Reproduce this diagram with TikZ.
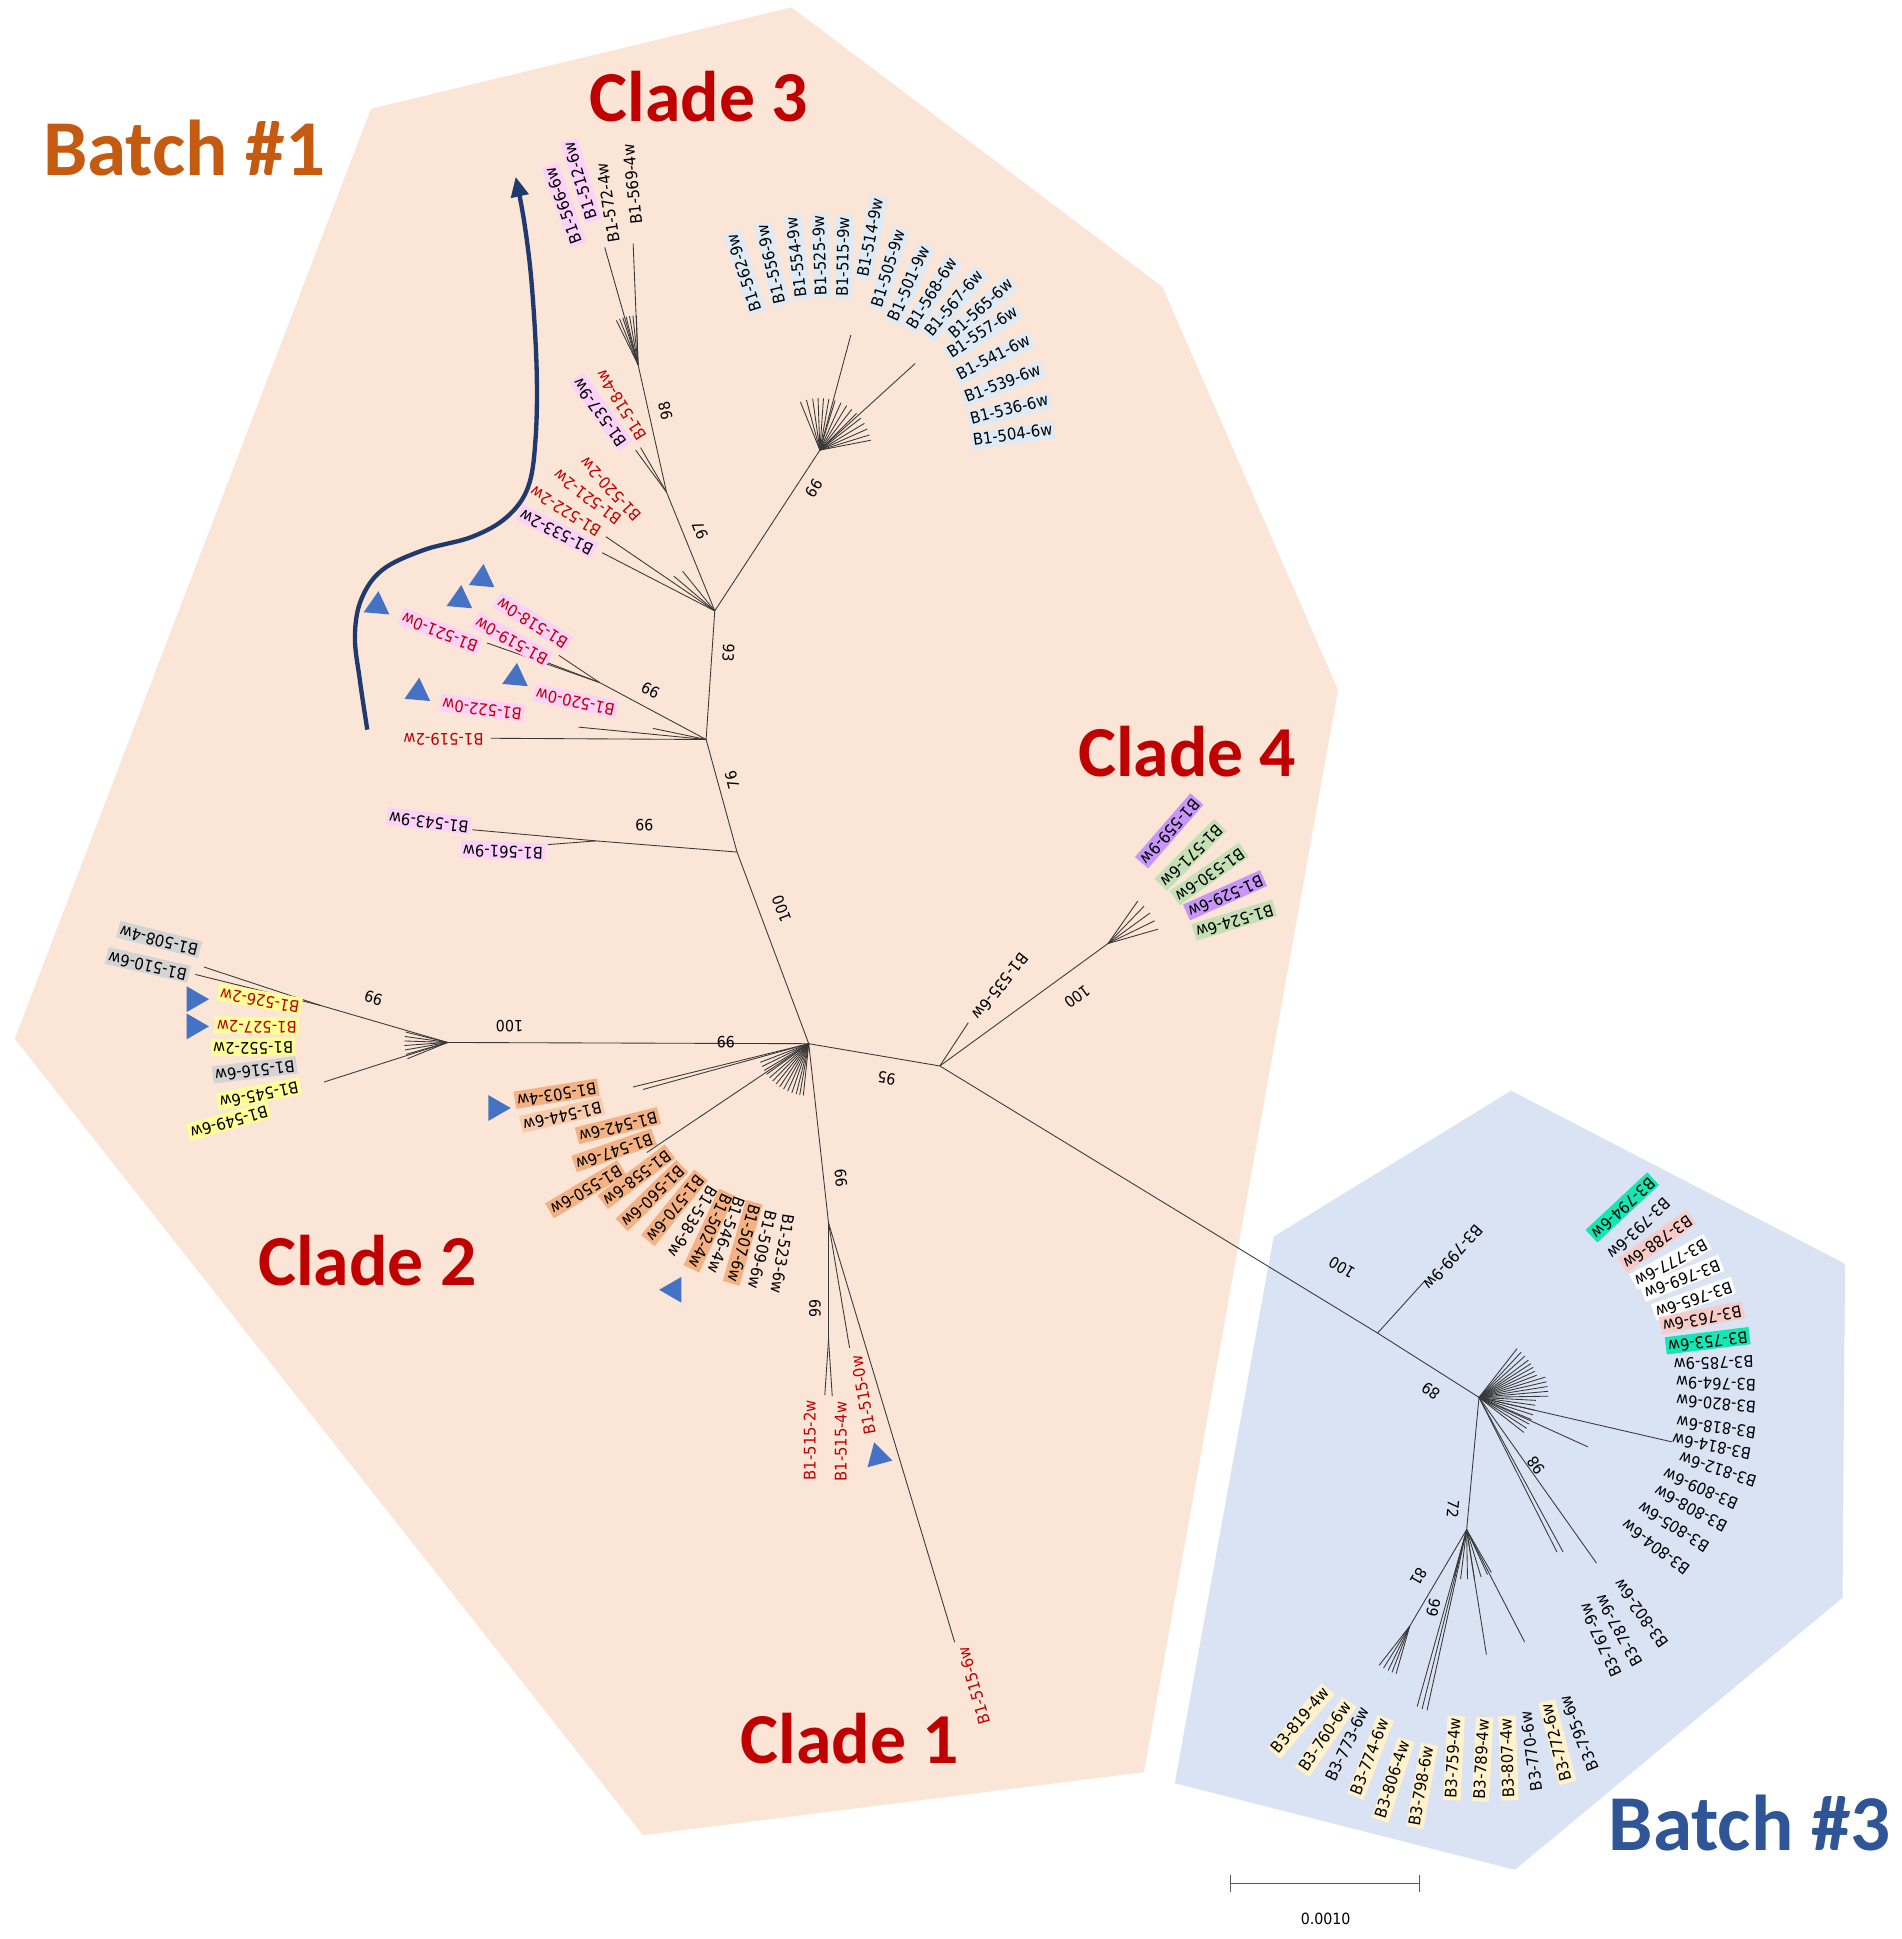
\documentclass[tikz,border=0pt]{standalone}
\usepackage{fontspec}
\usetikzlibrary{shapes.geometric,arrows.meta}
\newfontfamily\dejafam{DejaVu Sans}[FakeStretch=0.92]
\newfontfamily\carfam{Carlito}
\newcommand\labfnt{\dejafam\fontsize{13}{14}\selectfont}
\newcommand\supfnt{\dejafam\fontsize{12.5}{13}\selectfont}
\newcommand\ttlfnt{\carfam\bfseries\fontsize{58}{60}\selectfont}
\newcommand\batfnt{\carfam\bfseries\fontsize{64}{66}\selectfont}
\newcommand\sbfnt{\dejafam\fontsize{12.5}{13}\selectfont}
\definecolor{peach}{RGB}{251,229,214}
\definecolor{bluebg}{RGB}{218,227,243}
\definecolor{cred}{RGB}{192,0,0}
\definecolor{corange}{RGB}{197,90,17}
\definecolor{cblue}{RGB}{47,85,151}
\definecolor{arrowblue}{RGB}{32,58,110}
\definecolor{tricol}{RGB}{68,114,196}
\definecolor{bxblue}{RGB}{222,235,247}
\definecolor{bxpink}{RGB}{252,210,250}
\definecolor{bxgray}{RGB}{212,212,212}
\definecolor{bxyellow}{RGB}{255,255,153}
\definecolor{bxorange}{RGB}{244,177,131}
\definecolor{bxlorange}{RGB}{248,203,173}
\definecolor{bxpurple}{RGB}{200,150,250}
\definecolor{bxgreen}{RGB}{197,224,180}
\definecolor{bxcream}{RGB}{255,242,204}
\definecolor{bxteal}{RGB}{20,230,180}
\definecolor{bxrose}{RGB}{247,203,200}
\newcommand\lb[5]{\node[lab,#1,rotate=#3] (#4) at (#2) {#5};}
\newcommand\tr[3]{\node[trist,rotate=#3-90] (#1) at (#2) {};}
\newcommand\fan[4]{\foreach \a [count=\i] in {#3}{\path (#1) ++({#2*cos(\a)},{-#2*sin(\a)}) coordinate (#4\i); \draw[br] (#1) -- (#4\i);}}
\begin{document}
\begin{tikzpicture}[x=1pt,y=-1pt,
 br/.style={draw=black!78,line width=0.7pt},
 lab/.style={font=\labfnt,anchor=west,inner xsep=1.8pt,inner ysep=1pt,text height=9.6pt,text depth=2.4pt},
 rt/.style={text=cred},
 nb/.style={},
 fb/.style={fill=bxblue}, fp/.style={fill=bxpink}, fg/.style={fill=bxgray},
 fy/.style={fill=bxyellow}, fo/.style={fill=bxorange}, flo/.style={fill=bxlorange},
 fu/.style={fill=bxpurple}, fgr/.style={fill=bxgreen}, fc/.style={fill=bxcream},
 ft/.style={fill=bxteal}, fr/.style={fill=bxrose}, fw/.style={fill=white},
 sup/.style={font=\supfnt,inner sep=1pt},
 ttl/.style={font=\ttlfnt,text=cred},
 bat/.style={font=\batfnt},
 trist/.style={regular polygon,regular polygon sides=3,fill=tricol,minimum size=24pt,inner sep=0pt}]
\useasboundingbox (0,0) rectangle (1538,1568);
\fill[white] (0,0) rectangle (1538,1568);
% backgrounds
\fill[peach] (300,88) -- (640,6) -- (940,232) -- (1082,558) -- (925,1433) -- (520,1484) -- (12,840) -- cycle;
\fill[bluebg] (1030,1000) -- (1222,882) -- (1492,1022) -- (1490,1292) -- (1225,1512) -- (950,1442) -- cycle;
% titles
\node[ttl] (ttl3) at (565,78) {Clade 3};
\node[ttl] (ttl4) at (960,608) {Clade 4};
\node[ttl] (ttl2) at (297,1019) {Clade 2};
\node[ttl] (ttl1) at (687,1406) {Clade 1};
\node[bat,text=corange] (bat1) at (149,120) {Batch \#1};
\node[bat,text=cblue] (bat3) at (1415,1474) {Batch \#3};
% arrow
\draw[arrowblue,line width=3.5pt,-{Triangle[length=16pt,width=14pt]}] plot[smooth,tension=0.6] coordinates {(297,590) (291,550) (287,515) (292,485) (309,461) (342,445) (382,434) (410,418) (427,394) (433,356) (434,300) (430,230) (424,180) (417,143)};
% internal nodes
\coordinate (A) at (654,844);
\coordinate (N76) at (596,689);
\coordinate (N93) at (571,598);
\coordinate (N3) at (578,494);
\coordinate (N98) at (539,398);
\coordinate (F566) at (516,295);
\coordinate (C3a) at (663,364);
\coordinate (N99m) at (485,552);
\coordinate (N99b) at (482,680);
\coordinate (L100) at (362,843);
\coordinate (N99L) at (259,813);
\coordinate (N99c) at (670,989);
\coordinate (N99d) at (670,1083);
\coordinate (N95) at (760,862);
\coordinate (C4a) at (896,763);
\coordinate (N799) at (1114,1078);
\coordinate (BA) at (1196,1130);
\coordinate (N72) at (1186,1237);
\coordinate (N81) at (1140,1315);
% leaf tips
\coordinate (c3l1) at (688,271);
\coordinate (c3l2) at (740,294);
\coordinate (tip566) at (489,200);
\coordinate (tip569) at (512,197);
\coordinate (tip537) at (514,364);
\coordinate (tip518) at (518,362);
\coordinate (tip533) at (487,447);
\coordinate (tip522) at (490,434);
\coordinate (tip521s) at (545,466);
\coordinate (tip520s) at (552,462);
\coordinate (tip5192) at (397,597);
\coordinate (n93s1) at (468,588);
\coordinate (n93s2) at (528,589);
\coordinate (tip5210) at (394,520);
\coordinate (tip5190) at (443,536);
\coordinate (tip5180) at (452,530);
\coordinate (tip543) at (382,671);
\coordinate (tip561) at (443,683);
\coordinate (tip510) at (158,788);
\coordinate (tip508) at (165,782);
\coordinate (tipL) at (262,875);
\coordinate (tip503) at (512,879);
\coordinate (tip544) at (520,881);
\coordinate (tip547) at (523,932);
\coordinate (tip5152) at (667,1128);
\coordinate (tip5154) at (673,1129);
\coordinate (tip5150) at (687,1090);
\coordinate (tip5156) at (772,1328);
\coordinate (tip535) at (783,827);
\coordinate (tip799) at (1152,1036);
\coordinate (bA1) at (1352,1166);
\coordinate (bA2) at (1284,1170);
\coordinate (bA3) at (1259,1255);
\coordinate (bA4) at (1264,1255);
\coordinate (bA5) at (1291,1264);
\coordinate (n72a) at (1202,1338);
\coordinate (n72b) at (1233,1328);
\coordinate (n72c) at (1150,1382);
\coordinate (n72d) at (1154,1383);
\coordinate (n72e) at (1146,1380);
% branches
\draw[br] (A) -- (N76) -- (N93) -- (N3);
\draw[br] (N3) -- (N98) -- (F566);
\draw[br] (N3) -- (C3a);
\draw[br] (C3a) -- (c3l1);
\draw[br] (C3a) -- (c3l2);
\draw[br] (F566) -- (tip566);
\draw[br] (F566) -- (tip569);
\draw[br] (N98) -- (tip537);
\draw[br] (N98) -- (tip518);
\draw[br] (N3) -- (tip533);
\draw[br] (N3) -- (tip522);
\draw[br] (N3) -- (tip521s);
\draw[br] (N3) -- (tip520s);
\draw[br] (N93) -- (tip5192);
\draw[br] (N93) -- (n93s1);
\draw[br] (N93) -- (n93s2);
\draw[br] (N93) -- (N99m);
\draw[br] (N99m) -- (tip5210);
\draw[br] (N99m) -- (tip5190);
\draw[br] (N99m) -- (tip5180);
\draw[br] (N76) -- (N99b) -- (tip543);
\draw[br] (N99b) -- (tip561);
\draw[br] (A) -- (L100) -- (N99L) -- (tip510);
\draw[br] (N99L) -- (tip508);
\draw[br] (L100) -- (tipL);
\draw[br] (A) -- (tip503);
\draw[br] (A) -- (tip544);
\draw[br] (A) -- (tip547);
\draw[br] (A) -- (N99c) -- (N99d) -- (tip5152);
\draw[br] (N99d) -- (tip5154);
\draw[br] (N99c) -- (tip5150);
\draw[br] (N99c) -- (tip5156);
\draw[br] (A) -- (N95) -- (tip535);
\draw[br] (N95) -- (C4a);
\draw[br] (N95) -- (N799) -- (BA);
\draw[br] (N799) -- (tip799);
\draw[br] (BA) -- (bA1);
\draw[br] (BA) -- (bA2);
\draw[br] (BA) -- (bA3);
\draw[br] (BA) -- (bA4);
\draw[br] (BA) -- (bA5);
\draw[br] (BA) -- (N72) -- (N81);
\draw[br] (N72) -- (n72a);
\draw[br] (N72) -- (n72b);
\draw[br] (N72) -- (n72c);
\draw[br] (N72) -- (n72d);
\draw[br] (N72) -- (n72e);
% fans
\fan{C3a}{42}{112,105,98,92,86,80,73,66,59,52,45,38,31,24,17,11}{fc3}
\fan{A}{42}{201,206,211,216,221,226,231,236,241,246,251,256,260,264}{fc2}
\fan{C4a}{42}{55,46,36,26,16}{fc4}
\fan{F566}{40}{92,96,100,104,108,112,116}{ff5}
\fan{L100}{35}{166,172,178,184,190,196,202}{fl1}
\fan{N72}{40}{255,263,271,279,287,295,300}{fn7}
\fan{N81}{40}{232,238,244,249,254}{fn8}
\fan{BA}{50}{52,47,42,37,33,29,25,21}{fba}
\fan{BA}{56}{17,13,9,5,1}{fbb}
\fan{BA}{46}{-3,-8,-13,-18,-23,-28,-33,-38}{fbc}
% support values
\node[sup,rotate=102.6] (s98) at (538,332) {98};
\node[sup,rotate=112] (s97) at (566,429) {97};
\node[sup,rotate=266] (s93) at (589,528) {93};
\node[sup,rotate=105] (s76) at (592,631) {76};
\node[sup,rotate=110.5] (s100a) at (632,735) {100};
\node[sup,rotate=237.5] (s99c3) at (658,395) {99};
\node[sup,rotate=152] (s99m) at (526,558) {99};
\node[sup,rotate=180] (s99b) at (521,667) {99};
\node[sup,rotate=164] (s99L) at (302,807) {99};
\node[sup,rotate=180] (s100L) at (412,830) {100};
\node[sup,rotate=180] (s99A) at (587,843) {99};
\node[sup,rotate=171] (s95) at (717,872) {95};
\node[sup,rotate=217] (s100c4) at (871,806) {100};
\node[sup,rotate=96] (s99c1a) at (680,953) {99};
\node[sup,rotate=90] (s99c1b) at (659,1058) {99};
\node[sup,rotate=149] (s100b3) at (1085,1025) {100};
\node[sup,rotate=145] (s89) at (1157,1125) {89};
\node[sup,rotate=265] (s72) at (1175,1220) {72};
\node[sup,rotate=125] (s98b) at (1242,1185) {98};
\node[sup,rotate=239.5] (s81) at (1147,1275) {81};
\node[sup,rotate=256.5] (s99b3) at (1159,1300) {99};
% Clade 3 labels
\lb{fb}{613,253}{108}{t562}{B1-562-9w}
\lb{fb}{632,247}{103}{t556}{B1-556-9w}
\lb{fb}{649,242}{97}{t554}{B1-554-9w}
\lb{fb}{665,241}{92}{t525}{B1-525-9w}
\lb{fb}{682,242}{89}{t515}{B1-515-9w}
\lb{fb}{698,226}{79}{t514}{B1-514-9w}
\lb{fb}{709,250}{73}{t505}{B1-505-9w}
\lb{fb}{722,261}{66}{t501}{B1-501-9w}
\lb{fb}{736,267}{58}{t568}{B1-568-6w}
\lb{fb}{750,272}{50}{t567}{B1-567-6w}
\lb{fb}{768,273}{42}{t565}{B1-565-6w}
\lb{fb}{766,288}{33}{t557}{B1-557-6w}
\lb{fb}{773,305}{27}{t541}{B1-541-6w}
\lb{fb}{779,323}{21}{t539}{B1-539-6w}
\lb{fb}{783,340}{14}{t536}{B1-536-6w}
\lb{fb}{785,357}{8}{t504}{B1-504-6w}
\lb{fp}{468,198}{110}{t566}{B1-566-6w}
\lb{fp}{480,179}{107}{t512}{B1-512-6w}
\lb{nb}{498,198}{99}{t572}{B1-572-4w}
\lb{nb}{516,183}{96}{t569}{B1-569-4w}
\lb{fp}{506,361}{125.5}{t537}{B1-537-9w}
\lb{rt}{522,356}{122.5}{t5184}{B1-518-4w}
\lb{fp}{481,445}{153}{t533}{B1-533-2w}
\lb{rt}{487,431}{148}{t5222}{B1-522-2w}
\lb{rt}{503,422}{143}{t5212}{B1-521-2w}
\lb{rt}{518,420}{133}{t5202}{B1-520-2w}
\lb{fp,rt}{460,521}{148}{t5180}{B1-518-0w}
\lb{fp,rt}{444,534}{151}{t5190}{B1-519-0w}
\lb{fp,rt}{388,523}{158.6}{t5210}{B1-521-0w}
\lb{fp,rt}{499,574}{168}{t5200}{B1-520-0w}
\lb{fp,rt}{424,577}{172.5}{t5220}{B1-522-0w}
\lb{rt}{393,597}{180}{t5192}{B1-519-2w}
\lb{fp}{381,668}{173}{t543}{B1-543-9w}
\lb{fp}{441,689}{178}{t561}{B1-561-9w}
% left group
\lb{fg}{162,768}{166}{t508}{B1-508-4w}
\lb{fg}{153,788}{167}{t510}{B1-510-6w}
\lb{fy,rt}{244,814}{170}{t526}{B1-526-2w}
\lb{fy,rt}{242,830}{179}{t527}{B1-527-2w}
\lb{fy}{239,846}{181}{t552}{B1-552-2w}
\lb{fg}{240,861}{187}{t516}{B1-516-6w}
\lb{fy}{243,878}{191}{t545}{B1-545-6w}
\lb{fy}{218,897}{196}{t549}{B1-549-6w}
% Clade 2
\lb{fo}{484,879}{189}{t503}{B1-503-4w}
\lb{flo}{488,894}{193}{t544}{B1-544-6w}
\lb{fo}{533,902}{194}{t542}{B1-542-6w}
\lb{fo}{529,919}{199}{t547}{B1-547-6w}
\lb{fo}{503,944}{211}{t550}{B1-550-6w}
\lb{fo}{542,931}{217}{t558}{B1-558-6w}
\lb{fo}{552,943}{224}{t560}{B1-560-6w}
\lb{fo}{567,950}{231}{t570}{B1-570-6w}
\lb{nb}{577,958}{239}{t538}{B1-538-9w}
\lb{fo}{588,964}{245}{t502}{B1-502-4w}
\lb{nb}{598,966}{250}{t546}{B1-546-4w}
\lb{fo}{610,972}{254}{t507}{B1-507-6w}
\lb{nb}{623,977}{257}{t509}{B1-509-6w}
\lb{nb}{637,980}{261}{t523}{B1-523-6w}
% Clade 1
\lb{rt}{656,1199}{90}{t5152}{B1-515-2w}
\lb{rt}{681,1200}{90}{t5154}{B1-515-4w}
\lb{rt}{705,1162}{100}{t5150}{B1-515-0w}
\lb{rt}{798,1396}{106}{t5156}{B1-515-6w}
% Clade 4
\lb{nb}{829,770}{232}{t535}{B1-535-6w}
\lb{fu}{968,646}{229}{t559}{B1-559-9w}
\lb{fgr}{987,667}{225}{t571}{B1-571-6w}
\lb{fgr}{1006,687}{215}{t530}{B1-530-6w}
\lb{fu}{1022,710}{204}{t529}{B1-529-6w}
\lb{fgr}{1031,734}{197}{t524}{B1-524-6w}
% Batch 3
\lb{nb}{1197,990}{229}{t799}{B3-799-9w}
\lb{ft}{1337,953}{223}{t794}{B3-794-6w}
\lb{nb}{1349,969}{224}{t793}{B3-793-6w}
\lb{fr}{1368,984}{215}{t788}{B3-788-6w}
\lb{fw}{1381,1004}{208.6}{t777}{B3-777-6w}
\lb{fw}{1392,1021}{201.6}{t769}{B3-769-6w}
\lb{fw}{1402,1039}{199}{t765}{B3-765-6w}
\lb{fr}{1410,1059}{191}{t763}{B3-763-6w}
\lb{ft}{1415,1080}{187}{t753}{B3-753-6w}
\lb{nb}{1420,1100}{182}{t785}{B3-785-9w}
\lb{nb}{1422,1119}{178}{t764}{B3-764-9w}
\lb{nb}{1422,1137}{175}{t820}{B3-820-6w}
\lb{nb}{1422,1158}{172}{t818}{B3-818-6w}
\lb{nb}{1418,1175}{169}{t814}{B3-814-6w}
\lb{nb}{1422,1198}{162}{t812}{B3-812-6w}
\lb{nb}{1407,1217}{156}{t809}{B3-809-6w}
\lb{nb}{1398,1235}{152}{t808}{B3-808-6w}
\lb{nb}{1383,1252}{148}{t805}{B3-805-6w}
\lb{nb}{1367,1271}{143}{t804}{B3-804-6w}
\lb{nb}{1310,1357}{115}{t767}{B3-767-9w}
\lb{nb}{1327,1348}{119}{t787}{B3-787-9w}
\lb{nb}{1348,1332}{125.5}{t802}{B3-802-6w}
\lb{fc}{1030,1418}{50}{t819}{B3-819-4w}
\lb{fc}{1053,1433}{56}{t760}{B3-760-6w}
\lb{nb}{1076,1442}{65}{t773}{B3-773-6w}
\lb{fc}{1096,1453}{69}{t774}{B3-774-6w}
\lb{fc}{1116,1472}{72}{t806}{B3-806-4w}
\lb{fc}{1144,1478}{80}{t798}{B3-798-6w}
\lb{fc}{1174,1456}{87}{t759}{B3-759-4w}
\lb{fc}{1197,1457}{87}{t789}{B3-789-4w}
\lb{fc}{1221,1456}{92}{t807}{B3-807-4w}
\lb{nb}{1244,1450}{98}{t770}{B3-770-6w}
\lb{fc}{1268,1442}{104.6}{t772}{B3-772-6w}
\lb{nb}{1291,1433}{112}{t795}{B3-795-6w}
% triangles
\tr{tr1}{305,490}{-35}
\tr{tr2}{372,485}{-35}
\tr{tr3}{390,468}{-35}
\tr{tr4}{417,548}{-35}
\tr{tr5}{338,560}{-35}
\tr{tr6}{157,808}{0}
\tr{tr7}{157,830}{0}
\tr{tr8}{401,896}{0}
\tr{tr9}{545,1043}{60}
\tr{tr10}{710,1178}{-15}
% scale bar
\coordinate (sb1) at (995,1523);
\coordinate (sb2) at (1148,1523);
\draw[black!65,line width=0.8pt] (sb1) -- (sb2);
\draw[black!65,line width=0.8pt] ([yshift=7pt]sb1) -- ([yshift=-7pt]sb1);
\draw[black!65,line width=0.8pt] ([yshift=7pt]sb2) -- ([yshift=-7pt]sb2);
\node[font=\sbfnt] (sbt) at (1072,1552) {0.0010};
\end{tikzpicture}
\end{document}
